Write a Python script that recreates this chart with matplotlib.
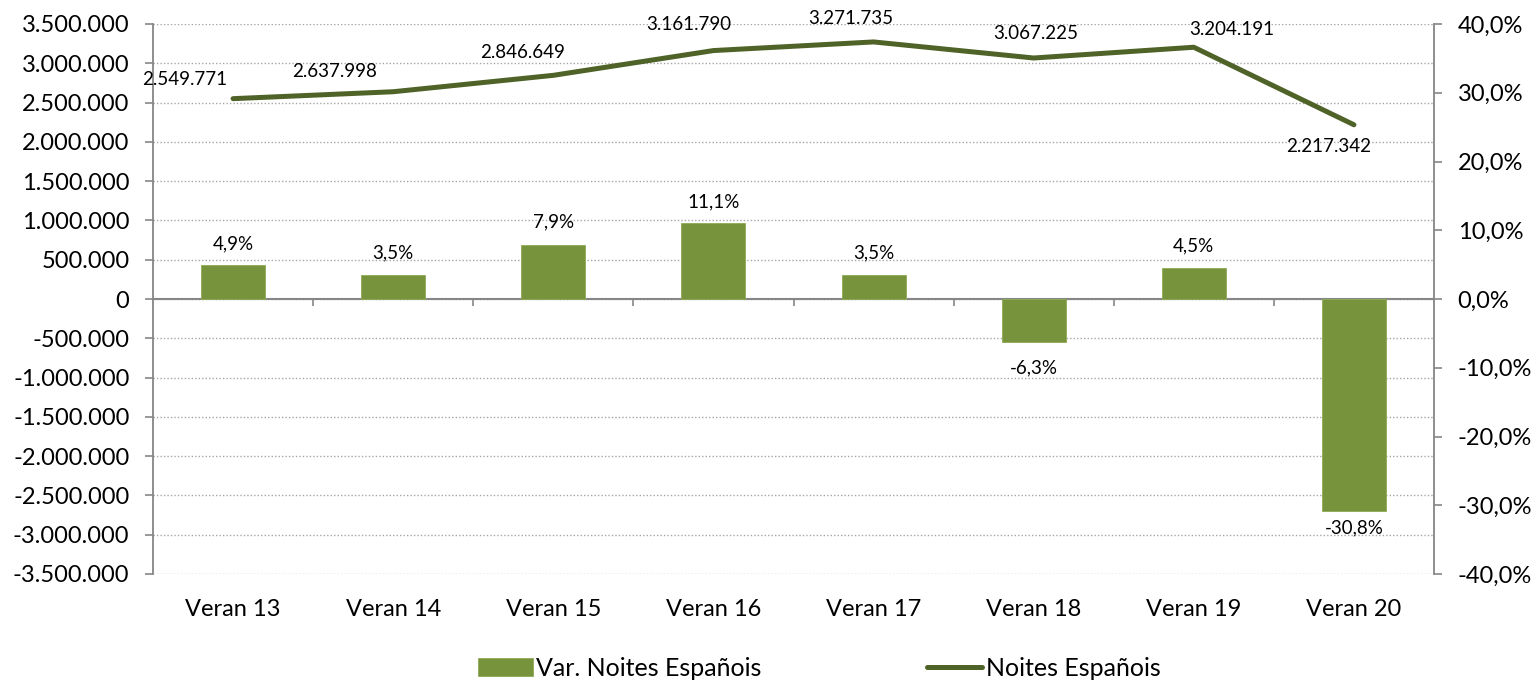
import matplotlib
matplotlib.use("Agg")
import matplotlib.pyplot as plt
import matplotlib.transforms as mtransforms
import numpy as np

plt.rcParams['font.family'] = ['Lato', 'DejaVu Sans']

categories = ["Veran 13", "Veran 14", "Veran 15", "Veran 16",
              "Veran 17", "Veran 18", "Veran 19", "Veran 20"]
noites = [2549771, 2637998, 2846649, 3161790, 3271735, 3067225, 3204191, 2217342]
var_pct = [4.9, 3.5, 7.9, 11.1, 3.5, -6.3, 4.5, -30.8]

series_bar = "Var. Noites Españois"
series_line = "Noites Españois"

# label placement offsets (pixels: dx, dy up-positive)
line_lbl_off = [(-48, 19), (-59, 20), (-31, 23), (-25, 26), (-23, 23), (2, 25), (38, 18), (-25, -22)]
bar_lbl_off = [(0, 21), (0, 22), (0, 23), (0, 21), (0, 22), (0, -26), (0, 22), (0, -17)]

BAR_C = '#77933C'
LINE_C = '#4F6228'
AX_C = '#868686'
GRID_C = '#A6A6A6'
PX = 0.72  # points per pixel at dpi 100

fig = plt.figure(figsize=(15.35, 6.8), dpi=100)
ax = fig.add_axes([153/1535, 1-574/680, (1434-153)/1535, 550/680])
ax2 = ax.twinx()

x = np.arange(len(categories))

# left axis (values)
ax.set_xlim(-0.5, len(categories)-0.5)
ax.set_ylim(-3500000, 3500000)
lticks = np.arange(-3500000, 3500001, 500000)
ax.set_yticks(lticks)
ax.set_yticklabels([f"{v:,.0f}".replace(',', '.') for v in lticks])
ax.yaxis.grid(True, linestyle=(0, (1, 1.5)), color=GRID_C, linewidth=1.0)
ax.set_axisbelow(True)
for s in ['top', 'right']:
    ax.spines[s].set_visible(False)
ax.spines['left'].set_color(AX_C)
ax.spines['left'].set_linewidth(1.3)
ax.spines['bottom'].set_position(('data', 0))
ax.spines['bottom'].set_color(AX_C)
ax.spines['bottom'].set_linewidth(1.5)
ax.set_xticks(np.arange(len(categories)-1)+0.5)
ax.tick_params(axis='x', direction='out', length=5, width=1.2, color=AX_C, labelbottom=False)
ax.tick_params(axis='y', direction='out', length=6, width=1.2, color=AX_C, labelsize=17, pad=11)

ax.plot(x, noites, color=LINE_C, linewidth=3.6, solid_capstyle='round', solid_joinstyle='round',
        label=series_line, zorder=3)
for xi, v, (dx, dy) in zip(x, noites, line_lbl_off):
    ax.annotate(f"{v:,.0f}".replace(',', '.'), (xi, v), xytext=(dx*PX, dy*PX),
                textcoords='offset points', ha='center', va='center', fontsize=13.5, color='#000000')

# category labels
trans = mtransforms.blended_transform_factory(ax.transData, ax.transAxes)
for xi, c in zip(x, categories):
    ax.text(xi, -35/550, c, transform=trans, ha='center', va='center', fontsize=17)

# right axis (percentages)
ax2.set_ylim(-40, 40)
rticks = np.arange(-40, 41, 10)
ax2.set_yticks(rticks)
ax2.set_yticklabels([f"{v:.1f}%".replace('.', ',') for v in rticks])
for s in ['top', 'left', 'bottom']:
    ax2.spines[s].set_visible(False)
ax2.spines['right'].set_color(AX_C)
ax2.spines['right'].set_linewidth(1.3)
ax2.tick_params(axis='y', direction='out', length=6, width=1.2, color=AX_C, labelsize=17, pad=11)

ax2.bar(x, var_pct, width=0.4, color=BAR_C, edgecolor='#8FAA55', linewidth=0.6,
        label=series_bar, zorder=2)
for xi, v, (dx, dy) in zip(x, var_pct, bar_lbl_off):
    ax2.annotate(f"{v:.1f}%".replace('.', ','), (xi, v), xytext=(dx*PX, dy*PX),
                 textcoords='offset points', ha='center', va='center', fontsize=13.5)

h1, l1 = ax2.get_legend_handles_labels()
h2, l2 = ax.get_legend_handles_labels()
fig.legend(h1 + h2, l1 + l2, loc='center', bbox_to_anchor=(819/1535, 1-668/680),
           ncol=2, frameon=False, fontsize=18, handlelength=2.2, handletextpad=0.15,
           columnspacing=6.6, borderpad=0.1)

fig.savefig("out.png", dpi=100)
